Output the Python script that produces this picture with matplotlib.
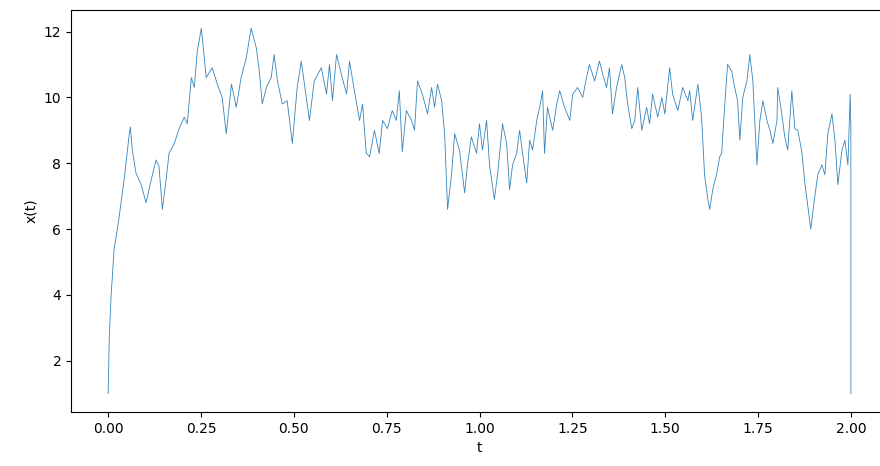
import numpy as np
from matplotlib import pyplot as plt

# path values
t_values = [0.0, 0.003, 0.008, 0.011, 0.016, 0.022, 0.030, 0.043, 0.057, 0.060, 0.065,
            0.075, 0.089, 0.102, 0.116, 0.129, 0.137, 0.146, 0.156, 0.164, 0.178,
            0.191, 0.205, 0.213, 0.224, 0.232, 0.240, 0.251, 0.264, 0.280, 0.294,
            0.307, 0.318, 0.332, 0.345, 0.358, 0.372, 0.385, 0.399, 0.407, 0.415,
            0.426, 0.439, 0.447, 0.456, 0.469, 0.482, 0.496, 0.509, 0.520, 0.536,
            0.542, 0.555, 0.574, 0.588, 0.596, 0.604, 0.615, 0.628, 0.642, 0.650,
            0.663, 0.677, 0.685, 0.695, 0.704, 0.717, 0.730, 0.739, 0.752, 0.765,
            0.776, 0.784, 0.792, 0.803, 0.817, 0.825, 0.833, 0.846, 0.860, 0.871,
            0.879, 0.887, 0.898, 0.906, 0.914, 0.925, 0.933, 0.946, 0.960, 0.968,
            0.978, 0.992, 1.000, 1.008, 1.019, 1.027, 1.040, 1.049, 1.062, 1.073,
            1.081, 1.089, 1.100, 1.108, 1.116, 1.127, 1.135, 1.143, 1.154, 1.162,
            1.170, 1.175, 1.183, 1.197, 1.208, 1.216, 1.229, 1.243, 1.251, 1.264,
            1.278, 1.288, 1.296, 1.310, 1.323, 1.332, 1.342, 1.350, 1.358, 1.369,
            1.383, 1.391, 1.399, 1.410, 1.418, 1.426, 1.437, 1.450, 1.458, 1.466,
            1.480, 1.491, 1.499, 1.512, 1.520, 1.534, 1.547, 1.561, 1.566, 1.574,
            1.588, 1.598, 1.606, 1.615, 1.620, 1.628, 1.639, 1.647, 1.652, 1.660,
            1.668, 1.679, 1.687, 1.695, 1.701, 1.709, 1.720, 1.728, 1.736, 1.747,
            1.755, 1.763, 1.774, 1.782, 1.790, 1.801, 1.803, 1.814, 1.822, 1.830,
            1.841, 1.849, 1.857, 1.868, 1.876, 1.884, 1.892, 1.903, 1.911, 1.922,
            1.930, 1.938, 1.949, 1.957, 1.965, 1.976, 1.984, 1.992, 1.996, 1.998,
            2.000, 2.000]
x_values = [1.0, 2.7, 4.0, 4.5, 5.4, 5.8, 6.4, 7.5, 8.9, 9.1, 8.4,
            7.7, 7.35, 6.8, 7.5, 8.1, 7.9, 6.6, 7.5, 8.3, 8.6,
            9.05, 9.4, 9.2, 10.6, 10.3, 11.4, 12.1, 10.6, 10.9, 10.4,
            10.0, 8.9, 10.4, 9.7, 10.6, 11.2, 12.1, 11.5, 10.8, 9.8,
            10.3, 10.6, 11.3, 10.5, 9.8, 9.9, 8.6, 10.3, 11.1, 9.8,
            9.3, 10.5, 10.9, 10.1, 11.0, 9.9, 11.3, 10.7, 10.1, 11.1,
            10.2, 9.3, 9.8, 8.3, 8.2, 9.0, 8.3, 9.3, 9.05, 9.6,
            9.3, 10.2, 8.35, 9.6, 9.3, 9.0, 10.5, 10.1, 9.5, 10.3,
            9.7, 10.4, 9.9, 8.9, 6.6, 7.7, 8.9, 8.4, 7.1, 8.0,
            8.8, 8.3, 9.2, 8.4, 9.3, 7.95, 6.9, 7.7, 9.2, 8.6,
            7.2, 7.95, 8.3, 9.0, 8.3, 7.4, 8.7, 8.4, 9.3, 9.7,
            10.2, 8.3, 9.7, 9.0, 9.8, 10.2, 9.7, 9.3, 10.1, 10.3,
            10.0, 10.6, 11.0, 10.5, 11.1, 10.7, 10.3, 10.9, 9.5, 10.3,
            11.0, 10.6, 9.8, 9.05, 9.3, 10.3, 9.0, 9.7, 9.2, 10.1,
            9.4, 10.0, 9.5, 10.9, 10.1, 9.6, 10.3, 9.9, 10.2, 9.3,
            10.4, 9.4, 7.65, 6.9, 6.6, 7.2, 7.7, 8.2, 8.3, 9.7,
            11.0, 10.8, 10.3, 9.9, 8.7, 10.0, 10.5, 11.3, 10.5, 7.95,
            9.3, 9.9, 9.3, 9.0, 8.6, 9.3, 10.3, 9.5, 8.8, 8.4,
            10.2, 9.05, 9.0, 8.35, 7.4, 6.7, 6.0, 7.0, 7.65, 7.95,
            7.65, 8.9, 9.5, 8.7, 7.35, 8.4, 8.7, 7.95, 9.3, 10.1,
            9.1, 1.0]

plt.figure(figsize=(8.8, 4.66), dpi=100)
ax = plt.axes([0.0807, 0.1159, 0.9284, 0.8627])
ax.plot(t_values, x_values, color='#1f77b4', linewidth=0.6, alpha=0.9)
ax.set_xlim(-0.1, 2.1)
ax.set_xticks(np.arange(0, 2.01, 0.25))
ax.set_yticks([2, 4, 6, 8, 10, 12])
ax.set_xlabel("t")
ax.set_ylabel("x(t)")
plt.savefig("out.png", dpi=100)
